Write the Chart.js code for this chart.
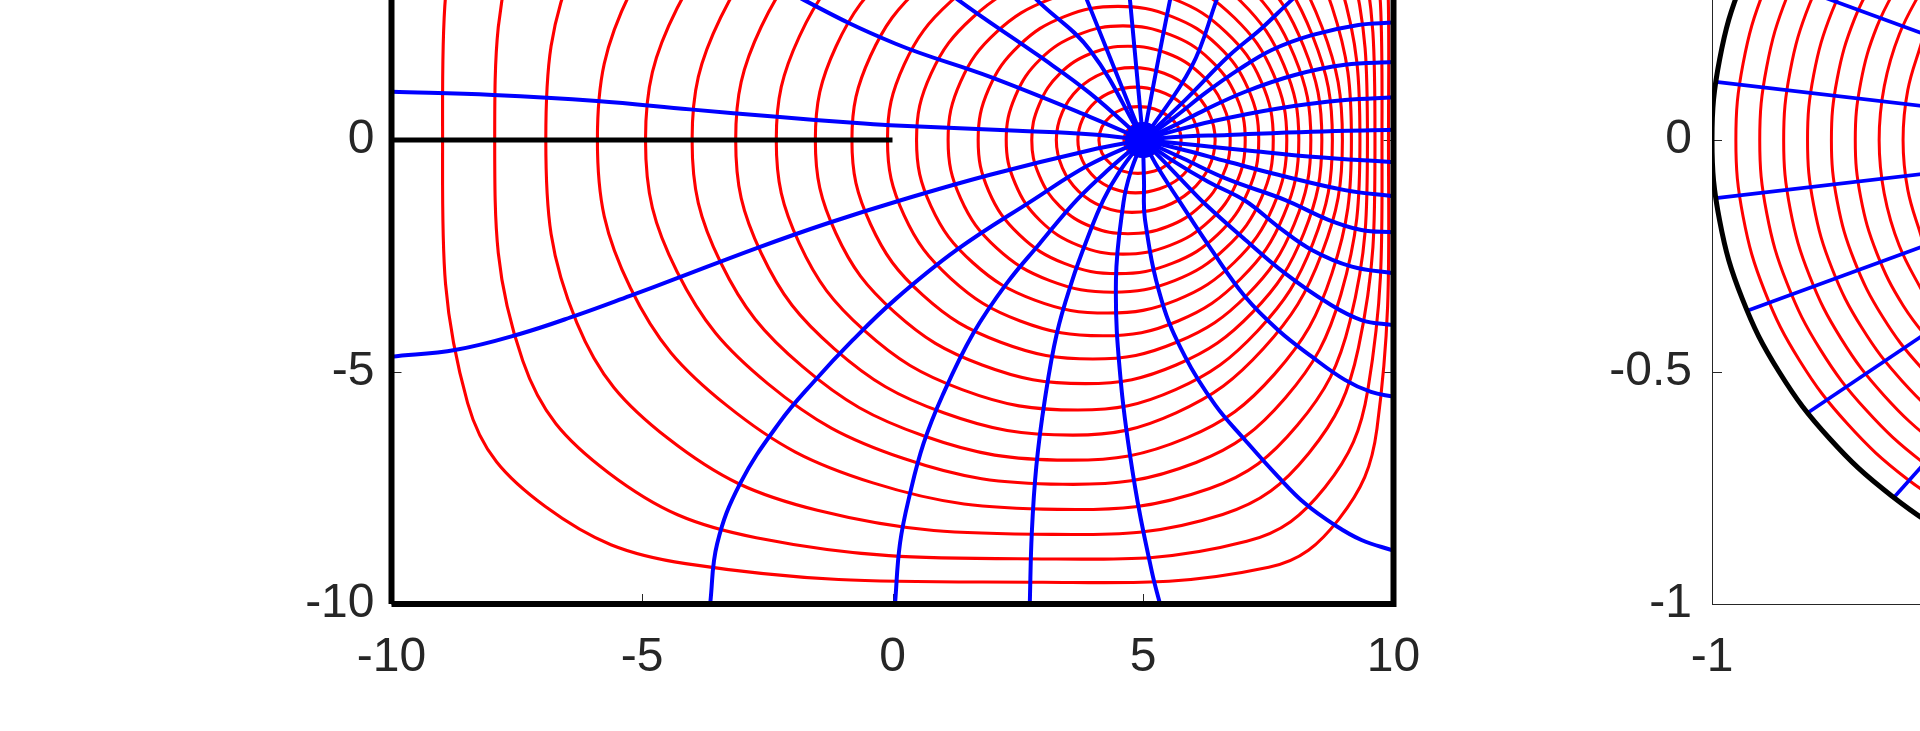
<!DOCTYPE html>
<html><head><meta charset="utf-8">
<script src="https://cdn.jsdelivr.net/npm/chart.js@4.4.1/dist/chart.umd.min.js"></script>
<style>
html,body{margin:0;padding:0;background:#fff;overflow:hidden;width:1920px;height:731px;}
#wrap{position:relative;width:1920px;height:731px;overflow:hidden;background:#fff;}
canvas{position:absolute;}
#c1{left:0;top:-400px;}
#c2{left:1400px;top:-400px;}
</style></head>
<body><div id="wrap"><canvas id="c1" width="1460" height="1131"></canvas><canvas id="c2" width="1400" height="1131"></canvas></div>
<script>
// ---------- tick labels ----------
const xTicksL = [-10, -5, 0, 5, 10];
const yTicksL = [-10, -5, 0, 5, 10];
const xTicksR = [-1, -0.5, 0, 0.5, 1];
const yTicksR = [-1, -0.5, 0, 0.5, 1];

// ---------- left panel: polygon (square + slit), conformal centre ----------
const squareXY = [[-10,-10],[10,-10],[10,10],[-10,10],[-10,-10]];
const slitXY = [[-10,0],[0,0]];
const centerXY = [[5,0]];

// ---------- left panel: red level curves (outer -> inner), closed loops ----------
const ring01 = [[-8.98,0],[-8.48,-5.67],[-6.93,-7.90],[-4.13,-9.13],[3.0,-9.53],[7.51,-9.21],[8.91,-8.17],[9.67,-6.22],[9.90,0],[9.67,6.22],[8.91,8.17],[7.51,9.21],[3.0,9.53],[-4.13,9.13],[-6.93,7.90],[-8.48,5.67]];
const ring02 = [[-7.94,0],[-7.38,-4.76],[-5.67,-7.17],[-2.72,-8.57],[3.1,-9.03],[7.07,-8.65],[8.63,-7.49],[9.49,-5.37],[9.77,0],[9.49,5.37],[8.63,7.49],[7.07,8.65],[3.1,9.03],[-2.72,8.57],[-5.67,7.17],[-7.38,4.76]];
const ring03 = [[-6.92,0],[-6.30,-3.94],[-4.47,-6.44],[-1.50,-7.98],[3.2,-8.50],[6.59,-8.07],[8.31,-6.75],[9.30,-4.48],[9.63,0],[9.30,4.48],[8.31,6.75],[6.59,8.07],[3.2,8.50],[-1.50,7.98],[-4.47,6.44],[-6.30,3.94]];
const ring04 = [[-5.89,0],[-5.23,-3.19],[-3.31,-5.72],[-0.39,-7.39],[3.3,-7.96],[6.33,-7.51],[8.08,-6.15],[9.13,-3.91],[9.48,0],[9.13,3.91],[8.08,6.15],[6.33,7.51],[3.3,7.96],[-0.39,7.39],[-3.31,5.72],[-5.23,3.19]];
const ring05 = [[-4.93,0],[-4.30,-2.84],[-2.49,-5.25],[0.21,-6.86],[3.4,-7.42],[6.06,-6.95],[7.84,-5.56],[8.95,-3.33],[9.33,0],[8.95,3.33],[7.84,5.56],[6.06,6.95],[3.4,7.42],[0.21,6.86],[-2.49,5.25],[-4.30,2.84]];
const ring06 = [[-4.00,0],[-3.43,-2.64],[-1.80,-4.88],[0.63,-6.38],[3.5,-6.90],[5.87,-6.42],[7.63,-5.04],[8.77,-2.88],[9.16,0],[8.77,2.88],[7.63,5.04],[5.87,6.42],[3.5,6.90],[0.63,6.38],[-1.80,4.88],[-3.43,2.64]];
const ring07 = [[-3.13,0],[-2.62,-2.44],[-1.16,-4.50],[1.02,-5.88],[3.6,-6.36],[5.66,-5.88],[7.40,-4.50],[8.57,-2.44],[8.98,0],[8.57,2.44],[7.40,4.50],[5.66,5.88],[3.6,6.36],[1.02,5.88],[-1.16,4.50],[-2.62,2.44]];
const ring08 = [[-2.32,0],[-1.86,-2.23],[-0.56,-4.11],[1.39,-5.38],[3.7,-5.82],[5.65,-5.38],[7.29,-4.11],[8.39,-2.23],[8.78,0],[8.39,2.23],[7.29,4.11],[5.65,5.38],[3.7,5.82],[1.39,5.38],[-0.56,4.11],[-1.86,2.23]];
const ring09 = [[-1.54,0],[-1.13,-2.01],[0.04,-3.71],[1.79,-4.85],[3.85,-5.25],[5.66,-4.85],[7.19,-3.71],[8.21,-2.01],[8.57,0],[8.21,2.01],[7.19,3.71],[5.66,4.85],[3.85,5.25],[1.79,4.85],[0.04,3.71],[-1.13,2.01]];
const ring10 = [[-0.81,0],[-0.44,-1.81],[0.60,-3.34],[2.16,-4.36],[4.0,-4.72],[5.67,-4.36],[7.08,-3.34],[8.02,-1.81],[8.35,0],[8.02,1.81],[7.08,3.34],[5.67,4.36],[4.0,4.72],[2.16,4.36],[0.60,3.34],[-0.44,1.81]];
const ring11 = [[-0.10,0],[0.23,-1.62],[1.16,-2.98],[2.55,-3.90],[4.2,-4.22],[5.70,-3.90],[6.96,-2.98],[7.81,-1.62],[8.11,0],[7.81,1.62],[6.96,2.98],[5.70,3.90],[4.2,4.22],[2.55,3.90],[1.16,2.98],[0.23,1.62]];
const ring12 = [[0.48,0],[0.77,-1.43],[1.60,-2.64],[2.84,-3.45],[4.3,-3.73],[5.67,-3.45],[6.82,-2.64],[7.60,-1.43],[7.87,0],[7.60,1.43],[6.82,2.64],[5.67,3.45],[4.3,3.73],[2.84,3.45],[1.60,2.64],[0.77,1.43]];
const ring13 = [[1.11,0],[1.36,-1.26],[2.07,-2.32],[3.14,-3.03],[4.4,-3.28],[5.63,-3.03],[6.66,-2.32],[7.36,-1.26],[7.60,0],[7.36,1.26],[6.66,2.32],[5.63,3.03],[4.4,3.28],[3.14,3.03],[2.07,2.32],[1.36,1.26]];
const ring14 = [[1.71,0],[1.92,-1.10],[2.53,-2.04],[3.43,-2.66],[4.5,-2.88],[5.58,-2.66],[6.49,-2.04],[7.10,-1.10],[7.31,0],[7.10,1.10],[6.49,2.04],[5.58,2.66],[4.5,2.88],[3.43,2.66],[2.53,2.04],[1.92,1.10]];
const ring15 = [[2.27,0],[2.45,-0.94],[2.95,-1.74],[3.71,-2.27],[4.6,-2.46],[5.54,-2.27],[6.33,-1.74],[6.86,-0.94],[7.04,0],[6.86,0.94],[6.33,1.74],[5.54,2.27],[4.6,2.46],[3.71,2.27],[2.95,1.74],[2.45,0.94]];
const ring16 = [[2.78,0],[2.93,-0.77],[3.34,-1.43],[3.97,-1.87],[4.7,-2.02],[5.48,-1.87],[6.14,-1.43],[6.59,-0.77],[6.74,0],[6.59,0.77],[6.14,1.43],[5.48,1.87],[4.7,2.02],[3.97,1.87],[3.34,1.43],[2.93,0.77]];
const ring17 = [[3.27,0],[3.39,-0.60],[3.71,-1.10],[4.20,-1.44],[4.78,-1.56],[5.42,-1.44],[5.95,-1.10],[6.31,-0.60],[6.44,0],[6.31,0.60],[5.95,1.10],[5.42,1.44],[4.78,1.56],[4.20,1.44],[3.71,1.10],[3.39,0.60]];
const ring18 = [[3.70,0],[3.79,-0.44],[4.04,-0.81],[4.41,-1.05],[4.85,-1.14],[5.33,-1.05],[5.74,-0.81],[6.01,-0.44],[6.11,0],[6.01,0.44],[5.74,0.81],[5.33,1.05],[4.85,1.14],[4.41,1.05],[4.04,0.81],[3.79,0.44]];
const ring19 = [[4.12,0],[4.18,-0.28],[4.35,-0.51],[4.60,-0.67],[4.9,-0.72],[5.23,-0.67],[5.51,-0.51],[5.70,-0.28],[5.76,0],[5.70,0.28],[5.51,0.51],[5.23,0.67],[4.9,0.72],[4.60,0.67],[4.35,0.51],[4.18,0.28]];
const ring20 = [[4.62,0],[4.65,-0.13],[4.73,-0.25],[4.84,-0.32],[4.98,-0.35],[5.13,-0.32],[5.25,-0.25],[5.33,-0.13],[5.36,0],[5.33,0.13],[5.25,0.25],[5.13,0.32],[4.98,0.35],[4.84,0.32],[4.73,0.25],[4.65,0.13]];

// ---------- left panel: blue radial curves ----------
const blueR1 = [[5,0],[5.64,0.50],[6.24,1.01],[6.90,1.51],[7.57,1.94],[8.37,2.26],[9.30,2.48],[10,2.53]];
const blueR2 = [[5,0],[5.64,0.32],[6.24,0.65],[7.04,1.04],[8.03,1.40],[9.03,1.62],[10,1.68]];
const blueR3 = [[5,0],[5.57,0.18],[6.37,0.40],[7.70,0.68],[9.03,0.86],[10,0.92]];
const blueR4 = [[5,0],[5.57,0.06],[6.70,0.11],[8.37,0.18],[10,0.22]];
const blueR5 = [[5,0],[6.04,-0.11],[7.04,-0.22],[8.37,-0.36],[10,-0.48]];
const blueR6 = [[5,0],[5.84,-0.22],[6.70,-0.47],[7.70,-0.75],[9.03,-1.08],[10,-1.21]];
const blueR7 = [[5,0],[5.80,-0.40],[6.70,-0.85],[7.83,-1.29],[8.70,-1.72],[9.36,-1.94],[10,-1.99]];
const blueR8 = [[5,0],[5.60,-0.45],[6.30,-0.90],[7.04,-1.31],[7.70,-1.87],[8.37,-2.37],[9.17,-2.73],[10,-2.87]];
const blueR9 = [[5,0],[5.45,-0.50],[5.85,-0.95],[6.24,-1.38],[7.04,-2.15],[7.83,-2.87],[8.70,-3.52],[9.36,-3.88],[10,-3.99]];
const blueR10 = [[5,0],[5.30,-0.60],[5.71,-1.29],[6.37,-2.37],[7.04,-3.38],[7.70,-4.10],[8.37,-4.67],[9.03,-5.17],[9.55,-5.43],[10,-5.53]];
const blueR11 = [[5,0],[5.02,-0.90],[5.04,-1.72],[5.37,-3.45],[5.84,-4.67],[6.44,-5.71],[7.04,-6.47],[7.70,-7.26],[8.23,-7.83],[8.83,-8.30],[9.36,-8.62],[10,-8.85]];
const blueB4 = [[5,0],[4.75,-0.70],[4.61,-1.35],[4.46,-3.02],[4.56,-5.24],[4.84,-7.47],[5.18,-9.32],[5.34,-10]];
const blueB3 = [[5,0],[4.55,-0.65],[4.21,-1.29],[3.88,-2.15],[3.58,-3.05],[3.28,-4.17],[3.04,-5.60],[2.87,-7.04],[2.78,-8.48],[2.74,-10]];
const blueB2 = [[5,0],[4.35,-0.60],[3.68,-1.29],[2.94,-2.23],[2.28,-3.09],[1.61,-4.17],[1.00,-5.50],[0.62,-6.54],[0.35,-7.62],[0.15,-8.69],[0.05,-10]];
const blueB1 = [[5,0],[3.90,-0.55],[2.81,-1.29],[1.28,-2.37],[0.05,-3.44],[-0.80,-4.32],[-1.58,-5.22],[-2.25,-6.08],[-3.04,-7.40],[-3.50,-8.70],[-3.64,-10]];
const blueL2 = [[5,0],[3.94,-0.22],[1.95,-0.75],[0.10,-1.32],[-1.31,-1.80],[-2.71,-2.33],[-4.35,-3.00],[-5.24,-3.36],[-6.31,-3.78],[-7.44,-4.18],[-8.71,-4.52],[-10,-4.67]];
const blueL1 = [[5,0],[4.00,0.12],[2.50,0.20],[-0.05,0.32],[-0.78,0.37],[-2.31,0.50],[-4.04,0.66],[-5.90,0.84],[-7.97,0.97],[-10,1.04]];
const blueT1 = [[5,0],[3.94,0.50],[1.95,1.36],[0.05,2.08],[-1.77,3.02],[-3.30,4.00]];
const blueT2 = [[5,0],[3.94,1.01],[2.94,1.80],[1.31,3.02],[0.30,3.90]];
const blueT3 = [[5,0],[3.94,1.94],[2.88,3.02],[2.30,3.70]];
const blueT4 = [[5,0],[3.88,3.02],[3.50,4.00]];
const blueT5 = [[5,0],[4.74,3.02],[4.65,4.00]];
const blueT6 = [[5,0],[5.54,3.02],[5.75,4.00]];
const blueT7 = [[5,0],[5.97,1.58],[6.47,3.02],[6.80,4.00]];
const blueT8 = [[5,0],[5.84,0.86],[6.70,1.80],[7.37,2.41],[7.97,3.02],[8.60,3.60]];

// ---------- right panel: unit disk (visible arcs) ----------
const unitCircle = [[-0.6428,0.7660],[-0.7660,0.6428],[-0.8660,0.5000],[-0.9397,0.3420],[-0.9848,0.1736],[-1,0],[-0.9848,-0.1736],[-0.9397,-0.3420],[-0.8660,-0.5000],[-0.7660,-0.6428],[-0.6428,-0.7660],[-0.5000,-0.8660],[-0.3420,-0.9397],[-0.1736,-0.9848],[0,-1]];
const disk20 = [[-0.8248,0.4762],[-0.8950,0.3257],[-0.9379,0.1653],[-0.9524,0],[-0.9379,-0.1653],[-0.8950,-0.3257],[-0.8248,-0.4762],[-0.7295,-0.6122],[-0.6122,-0.7295],[-0.4762,-0.8248]];
const disk19 = [[-0.7836,0.4524],[-0.8502,0.3094],[-0.8910,0.1571],[-0.9048,0],[-0.8910,-0.1571],[-0.8502,-0.3094],[-0.7836,-0.4524],[-0.6931,-0.5816],[-0.5816,-0.6931],[-0.4524,-0.7836]];
const disk18 = [[-0.7423,0.4286],[-0.8054,0.2931],[-0.8441,0.1488],[-0.8571,0],[-0.8441,-0.1488],[-0.8054,-0.2931],[-0.7423,-0.4286],[-0.6565,-0.5510],[-0.5510,-0.6565],[-0.4286,-0.7423]];
const disk17 = [[-0.7011,0.4048],[-0.7607,0.2769],[-0.7972,0.1405],[-0.8095,0],[-0.7972,-0.1405],[-0.7607,-0.2769],[-0.7011,-0.4048],[-0.6201,-0.5203],[-0.5203,-0.6201],[-0.4048,-0.7011]];
const disk16 = [[-0.6598,0.3810],[-0.7160,0.2606],[-0.7503,0.1323],[-0.7619,0],[-0.7503,-0.1323],[-0.7160,-0.2606],[-0.6598,-0.3810],[-0.5836,-0.4897],[-0.4897,-0.5836],[-0.3810,-0.6598]];
const disk15 = [[-0.6186,0.3571],[-0.6712,0.2443],[-0.7034,0.1240],[-0.7143,0],[-0.7034,-0.1240],[-0.6712,-0.2443],[-0.6186,-0.3571],[-0.5471,-0.4591]];
const disk14 = [[-0.5774,0.3333],[-0.6265,0.2280],[-0.6565,0.1158],[-0.6667,0],[-0.6565,-0.1158],[-0.6265,-0.2280],[-0.5774,-0.3333]];
const disk13 = [[-0.5817,0.2117],[-0.6096,0.1075],[-0.6190,0],[-0.6096,-0.1075],[-0.5817,-0.2117]];
const rayEndX = [1,0.9686,0.8763,0.7290,0.5358,0.3090,0.0628,-0.1874,-0.4258,-0.6374,-0.8090,-0.9298,-0.9921,-0.9921,-0.9298,-0.8090,-0.6374,-0.4258,-0.1874,0.0628,0.3090,0.5358,0.7290,0.8763,0.9686];
const rayEndY = [0,0.2487,0.4818,0.6845,0.8443,0.9511,0.9980,0.9823,0.9048,0.7705,0.5878,0.3681,0.1253,-0.1253,-0.3681,-0.5878,-0.7705,-0.9048,-0.9823,-0.9980,-0.9511,-0.8443,-0.6845,-0.4818,-0.2487];

// ---------- style ----------
const FONT = "'Liberation Sans', Arial, Helvetica, sans-serif";
const FS = 48;
const TXT = '#262626';
const RED = '#ff0000', BLUE = '#0000ff';

function pts(a){ return a.map(p => ({x:p[0], y:p[1]})); }

// close smooth loops with the library's own spline (as radar does)
const loopFix = { id:'loopFix', afterDatasetUpdate(chart, args){
  const ds = chart.data.datasets[args.index];
  if (ds && ds.closedLoop && args.meta.dataset) { args.meta.dataset._loop = true; args.meta.dataset._fullLoop = true; }
}};
const innerTicks = { id:'innerTicks', beforeDatasetsDraw(chart, args, opts){
  const {ctx, chartArea:a, scales:{x, y}} = chart;
  ctx.save(); ctx.strokeStyle = TXT; ctx.lineWidth = 1; const L = 10;
  ctx.beginPath();
  for (const t of x.ticks){ const p = Math.round(x.getPixelForValue(t.value))+0.5; ctx.moveTo(p, a.bottom); ctx.lineTo(p, a.bottom-L); ctx.moveTo(p, a.top); ctx.lineTo(p, a.top+L); }
  for (const t of y.ticks){ const p = Math.round(y.getPixelForValue(t.value))+0.5; ctx.moveTo(a.left, p); ctx.lineTo(a.left+L, p); ctx.moveTo(a.right, p); ctx.lineTo(a.right-L, p); }
  ctx.stroke();
  if (opts.box){ ctx.strokeRect(Math.round(a.left)+0.5, Math.round(a.top)+0.5, a.right-a.left, a.bottom-a.top); }
  ctx.restore();
}};

function lineDs(arr, color, w, order, tension, extra){
  return Object.assign({data:pts(arr), showLine:true, borderColor:color, backgroundColor:color, borderWidth:w, pointRadius:0, pointHoverRadius:0, tension:tension, order:order, fill:false}, extra||{});
}
function scaleOpts(min, max, tickVals, axisSize, isX, pad){
  return { type:'linear', min:min, max:max,
    afterBuildTicks: s => { s.ticks = tickVals.map(v => ({value:v})); },
    ticks:{ font:{family:FONT, size:FS}, color:TXT, padding:pad, maxRotation:0, autoSkip:false, callback: v => String(v) },
    grid:{ display:false }, border:{ display:false },
    afterFit: s => { if (isX) s.height = axisSize; else s.width = axisSize; } };
}

// ---------- left chart ----------
const redRings = [ring01,ring02,ring03,ring04,ring05,ring06,ring07,ring08,ring09,ring10,ring11,ring12,ring13,ring14,ring15,ring16,ring17,ring18,ring19,ring20];
const blueLines = [blueR1,blueR2,blueR3,blueR4,blueR5,blueR6,blueR7,blueR8,blueR9,blueR10,blueR11,blueB4,blueB3,blueB2,blueB1,blueL2,blueL1,blueT1,blueT2,blueT3,blueT4,blueT5,blueT6,blueT7,blueT8];
const dsL = [];
dsL.push(lineDs(squareXY, '#000', 6, 0, 0, {borderJoinStyle:'miter', clip:10}));
dsL.push(lineDs(slitXY, '#000', 5, 0, 0, {borderCapStyle:'butt'}));
dsL.push({data:pts(centerXY), showLine:false, pointRadius:18, pointHoverRadius:18, pointBackgroundColor:BLUE, pointBorderWidth:0, order:1});
blueLines.forEach(a => dsL.push(lineDs(a, BLUE, 4.0, 2, 0.4)));
redRings.forEach(a => dsL.push(lineDs(a, RED, 3.1, 3, 0.4, {closedLoop:true})));

new Chart(document.getElementById('c1'), {
  type:'scatter', data:{datasets:dsL},
  options:{ responsive:false, animation:false, devicePixelRatio:1, events:[],
    layout:{padding:{left:0, right:66.5, top:76, bottom:0}},
    plugins:{ legend:{display:false}, tooltip:{enabled:false}, innerTicks:{box:false} },
    scales:{ x: scaleOpts(-10, 10, xTicksL, 127, true, 17), y: scaleOpts(-10, 10, yTicksL, 391.5, false, 9) } },
  plugins:[loopFix, innerTicks]
});

// ---------- right chart ----------
const diskRings = [disk20,disk19,disk18,disk17,disk16,disk15,disk14,disk13];
const dsR = [];
dsR.push(lineDs(unitCircle, '#000', 5, 0, 0.4));
rayEndX.forEach((ex, i) => dsR.push(lineDs([[0,0],[ex, rayEndY[i]]], BLUE, 3.6, 1, 0)));
diskRings.forEach(a => dsR.push(lineDs(a, RED, 3.0, 2, 0.4)));

new Chart(document.getElementById('c2'), {
  type:'scatter', data:{datasets:dsR},
  options:{ responsive:false, animation:false, devicePixelRatio:1, events:[],
    layout:{padding:{left:0, right:85, top:76, bottom:0}},
    plugins:{ legend:{display:false}, tooltip:{enabled:false}, innerTicks:{box:true} },
    scales:{ x: scaleOpts(-1, 1, xTicksR, 127, true, 17), y: scaleOpts(-1, 1, yTicksR, 312, false, 12) } },
  plugins:[loopFix, innerTicks]
});
</script>
</body></html>
